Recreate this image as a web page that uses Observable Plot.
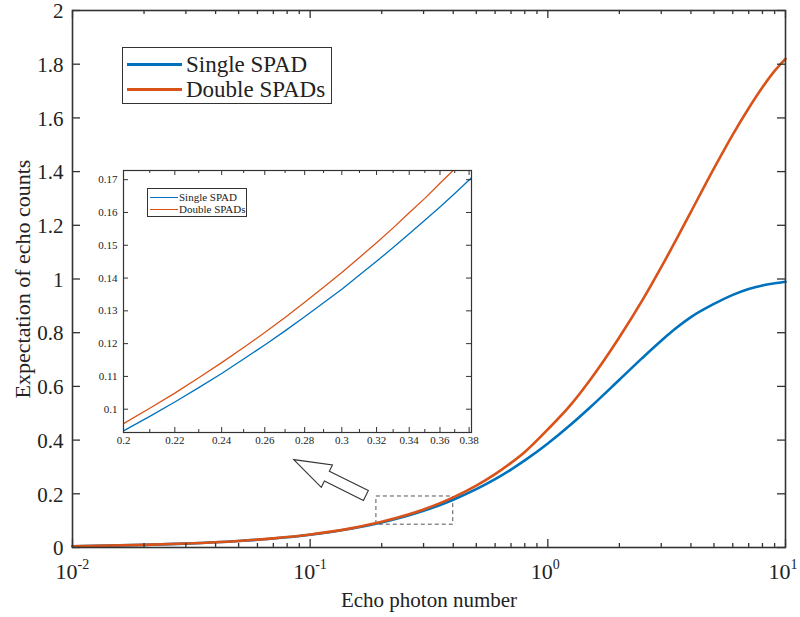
<!DOCTYPE html>
<html><head><meta charset="utf-8">
<script src="https://cdn.jsdelivr.net/npm/d3@7"></script>
<script src="https://cdn.jsdelivr.net/npm/@observablehq/plot@0.6"></script>
<style>
body{margin:0;background:#fff;}
#wrap{position:relative;width:800px;height:617px;overflow:hidden;font-family:"Liberation Serif","Times New Roman",serif;color:#222;}
#wrap svg{position:absolute;}
.legend{position:absolute;background:#fff;box-sizing:border-box;}
.legend .swatch{position:absolute;}
.legend .lab{position:absolute;white-space:nowrap;}
</style></head><body><div id="wrap"></div>
<script>
// ---------- data ----------
const seriesNames = ["Single SPAD", "Double SPADs"];
const seriesColors = ["#0072BD", "#D95319"];

const photons = [0.01,0.02,0.03,0.05,0.07,0.1,0.15,0.2,0.25,0.3,0.35,0.4,0.5,0.6,0.7,0.8,1,1.25,1.5,2,2.5,3,3.5,4,5,6,7,8,9,10];
const singleSPAD = [0.0049,0.0098,0.0146,0.0242,0.0337,0.0478,0.0709,0.0934,0.1153,0.1366,0.1576,0.178,0.2173,0.2547,0.2904,0.3243,0.3874,0.458,0.5205,0.6247,0.7062,0.7701,0.82,0.858,0.907,0.941,0.963,0.976,0.984,0.99];
const doubleSPADs = [0.0049,0.0098,0.0147,0.0244,0.0341,0.0484,0.0722,0.0956,0.1188,0.1417,0.1643,0.1867,0.2306,0.2734,0.3152,0.356,0.44,0.532,0.622,0.783,0.921,1.044,1.153,1.25,1.412,1.538,1.636,1.714,1.775,1.82];

const insetPhotons = [0.2,0.21,0.22,0.23,0.24,0.25,0.26,0.27,0.28,0.29,0.3,0.31,0.32,0.33,0.34,0.35,0.36,0.37,0.38,0.382];
const insetSingle = [0.0934,0.0978,0.1022,0.1066,0.1109,0.1153,0.1196,0.1239,0.1282,0.1325,0.1366,0.1409,0.1451,0.1493,0.1535,0.1576,0.1617,0.1658,0.1699,0.1707];
const insetDouble = [0.0956,0.1003,0.1049,0.1096,0.1142,0.1188,0.1234,0.128,0.1326,0.1372,0.1417,0.1463,0.1508,0.1553,0.1599,0.1643,0.1689,0.1733,0.1778,0.1787];

const yTicks = [0,0.2,0.4,0.6,0.8,1,1.2,1.4,1.6,1.8,2];
const xMajorTicks = [0.01,0.1,1,10];
const xExponents = ["-2","-1","0","1"];
const xMinorTicks = [0.02,0.03,0.04,0.05,0.06,0.07,0.08,0.09,0.2,0.3,0.4,0.5,0.6,0.7,0.8,0.9,2,3,4,5,6,7,8,9];

const insetXTicks = [0.2,0.22,0.24,0.26,0.28,0.3,0.32,0.34,0.36,0.38];
const insetXMinor = [0.21,0.23,0.25,0.27,0.29,0.31,0.33,0.35,0.37];
const insetYTicks = [0.1,0.11,0.12,0.13,0.14,0.15,0.16,0.17];

const zoomX = [0.19, 0.4];      // dashed zoom box, photon range
const zoomY = [0.085, 0.19];    // dashed zoom box, counts range
const arrowTip = [0.0857, 0.3254];
const arrowTail = [0.1724, 0.1918];

const xLabel = "Echo photon number";
const yLabel = "Expectation of echo counts";

// ---------- tables ----------
const mainData = [];
photons.forEach((n,i)=>{ mainData.push({n, v: singleSPAD[i], s: seriesNames[0]}); });
photons.forEach((n,i)=>{ mainData.push({n, v: doubleSPADs[i], s: seriesNames[1]}); });
const insetData = [];
insetPhotons.forEach((n,i)=>{ insetData.push({n, v: insetSingle[i], s: seriesNames[0]}); });
insetPhotons.forEach((n,i)=>{ insetData.push({n, v: insetDouble[i], s: seriesNames[1]}); });
const zoomRect = [{x1: zoomX[0], x2: zoomX[1], y1: zoomY[0], y2: zoomY[1]}];

const FONT = "Liberation Serif";
const AX = "#333";

// ---------- main plot ----------
const W = 800, H = 617, mL = 72, mR = 15, mT = 10, mB = 70;
const fw = W - mL - mR, fh = H - mT - mB;

function arrowMark(index, scales) {
  const X = scales.x, Y = scales.y;
  const tx = X(arrowTip[0]), ty = Y(arrowTip[1]);
  const bx = X(arrowTail[0]), by = Y(arrowTail[1]);
  const dx = bx - tx, dy = by - ty, L = Math.hypot(dx, dy);
  const ux = dx / L, uy = dy / L, px = -uy, py = ux;
  const headLen = 37, headHalf = 12.5, shaftHalf = 5.5;
  const hx = tx + ux * headLen, hy = ty + uy * headLen;
  const pts = [[tx,ty],[hx+px*headHalf,hy+py*headHalf],[hx+px*shaftHalf,hy+py*shaftHalf],
    [bx+px*shaftHalf,by+py*shaftHalf],[bx-px*shaftHalf,by-py*shaftHalf],
    [hx-px*shaftHalf,hy-py*shaftHalf],[hx-px*headHalf,hy-py*headHalf]];
  return d3.create("svg:path")
    .attr("d", "M" + pts.map(p => p.join(",")).join("L") + "Z")
    .attr("fill", "white").attr("stroke", "#333").attr("stroke-width", 1.1)
    .node();
}

const main = Plot.plot({
  width: W, height: H,
  marginLeft: mL, marginRight: mR, marginTop: mT, marginBottom: mB,
  x: {type: "log", domain: [0.01, 10], axis: null},
  y: {domain: [0, 2], axis: null},
  color: {domain: seriesNames, range: seriesColors},
  style: {fontFamily: FONT, background: "transparent", color: "#222", overflow: "visible"},
  marks: [
    Plot.rect(zoomRect, {x1: "x1", x2: "x2", y1: "y1", y2: "y2", fill: "none", stroke: "#555", strokeWidth: 1, strokeDasharray: "4,3"}),
    Plot.line(mainData, {x: "n", y: "v", z: "s", stroke: "s", strokeWidth: 2.6, curve: "monotone-x"}),
    arrowMark,
    // ticks (inward, all four sides)
    Plot.tickY(yTicks, {y: d => d, stroke: AX, strokeWidth: 1.3, insetRight: fw - 8}),
    Plot.tickY(yTicks, {y: d => d, stroke: AX, strokeWidth: 1.3, insetLeft: fw - 8}),
    Plot.tickX(xMajorTicks, {x: d => d, stroke: AX, strokeWidth: 1.3, insetTop: fh - 8}),
    Plot.tickX(xMajorTicks, {x: d => d, stroke: AX, strokeWidth: 1.3, insetBottom: fh - 8}),
    Plot.tickX(xMinorTicks, {x: d => d, stroke: AX, strokeWidth: 1.3, insetTop: fh - 4}),
    Plot.tickX(xMinorTicks, {x: d => d, stroke: AX, strokeWidth: 1.3, insetBottom: fh - 4}),
    Plot.frame({stroke: AX, strokeWidth: 1.6}),
    // tick labels
    Plot.text(yTicks, {y: d => d, frameAnchor: "left", text: d => String(+d.toFixed(1)), textAnchor: "end", dx: -9, dy: 1, fontSize: 21, fill: "#222"}),
    Plot.text(xMajorTicks, {x: d => d, frameAnchor: "bottom", text: () => "10", textAnchor: "end", dx: 5, dy: 31, fontSize: 22, fill: "#222"}),
    Plot.text(xMajorTicks, {x: d => d, frameAnchor: "bottom", text: (d, i) => xExponents[i], textAnchor: "start", dx: 5, dy: 21, fontSize: 14, fill: "#222"}),
    // axis titles
    Plot.text([xLabel], {frameAnchor: "bottom", text: d => d, textAnchor: "middle", dy: 59, fontSize: 21, fill: "#222"}),
    Plot.text([yLabel], {frameAnchor: "left", text: d => d, textAnchor: "middle", rotate: -90, dx: -50, fontSize: 22, fill: "#222"})
  ]
});
main.style.left = "0px"; main.style.top = "0px";
document.getElementById("wrap").appendChild(main);

// ---------- inset plot ----------
const iL = 35, iR = 12, iT = 1, iB = 22, iW = 35 + 348 + 12, iH = 285;
const ifw = iW - iL - iR, ifh = iH - iT - iB;
const inset = Plot.plot({
  width: iW, height: iH,
  marginLeft: iL, marginRight: iR, marginTop: iT, marginBottom: iB,
  x: {type: "log", domain: [0.2, 0.3817], axis: null},
  y: {domain: [0.0929, 0.1728], axis: null},
  color: {domain: seriesNames, range: seriesColors},
  style: {fontFamily: FONT, background: "transparent", color: "#222", overflow: "hidden"},
  marks: [
    Plot.frame({fill: "white", stroke: "none"}),
    Plot.line(insetData, {x: "n", y: "v", z: "s", stroke: "s", strokeWidth: 1.3, clip: true}),
    Plot.tickY(insetYTicks, {y: d => d, stroke: AX, strokeWidth: 1, insetRight: ifw - 5}),
    Plot.tickY(insetYTicks, {y: d => d, stroke: AX, strokeWidth: 1, insetLeft: ifw - 5}),
    Plot.tickX(insetXTicks, {x: d => d, stroke: AX, strokeWidth: 1, insetTop: ifh - 5}),
    Plot.tickX(insetXTicks, {x: d => d, stroke: AX, strokeWidth: 1, insetBottom: ifh - 5}),
    Plot.tickX(insetXMinor, {x: d => d, stroke: AX, strokeWidth: 1, insetTop: ifh - 3}),
    Plot.tickX(insetXMinor, {x: d => d, stroke: AX, strokeWidth: 1, insetBottom: ifh - 3}),
    Plot.frame({stroke: AX, strokeWidth: 1.2}),
    Plot.text(insetYTicks, {y: d => d, frameAnchor: "left", text: d => String(+d.toFixed(2)), textAnchor: "end", dx: -6, fontSize: 11, fill: "#222"}),
    Plot.text(insetXTicks, {x: d => d, frameAnchor: "bottom", text: d => String(+d.toFixed(2)), textAnchor: "middle", dy: 11, fontSize: 11, fill: "#222"})
  ]
});
inset.style.left = (123 - iL) + "px"; inset.style.top = (170 - iT) + "px";
document.getElementById("wrap").appendChild(inset);

// ---------- legends ----------
function makeLegend(opts) {
  const box = document.createElement("div");
  box.className = "legend";
  Object.assign(box.style, {left: opts.left + "px", top: opts.top + "px", width: opts.width + "px", height: opts.height + "px", border: opts.border});
  seriesNames.forEach((name, i) => {
    const sw = document.createElement("div");
    sw.className = "swatch";
    Object.assign(sw.style, {left: opts.lineX0 + "px", width: (opts.lineX1 - opts.lineX0) + "px",
      top: opts.rows[i] + "px", height: opts.lineW + "px", background: seriesColors[i]});
    box.appendChild(sw);
    const lab = document.createElement("div");
    lab.className = "lab";
    lab.textContent = name;
    Object.assign(lab.style, {left: opts.textX + "px", top: (opts.rows[i] - opts.fontSize * 0.6 + opts.lineW / 2) + "px",
      fontSize: opts.fontSize + "px", lineHeight: (opts.fontSize * 1.2) + "px", color: "#222"});
    box.appendChild(lab);
  });
  document.getElementById("wrap").appendChild(box);
}
makeLegend({left: 122, top: 47, width: 210, height: 57, border: "1.6px solid #333",
  lineX0: 4, lineX1: 59, lineW: 3, textX: 63, rows: [15, 40], fontSize: 23});
makeLegend({left: 147, top: 188, width: 100, height: 29, border: "1px solid #333",
  lineX0: 2, lineX1: 30, lineW: 1, textX: 31, rows: [8, 20], fontSize: 11});
</script>
</body></html>
